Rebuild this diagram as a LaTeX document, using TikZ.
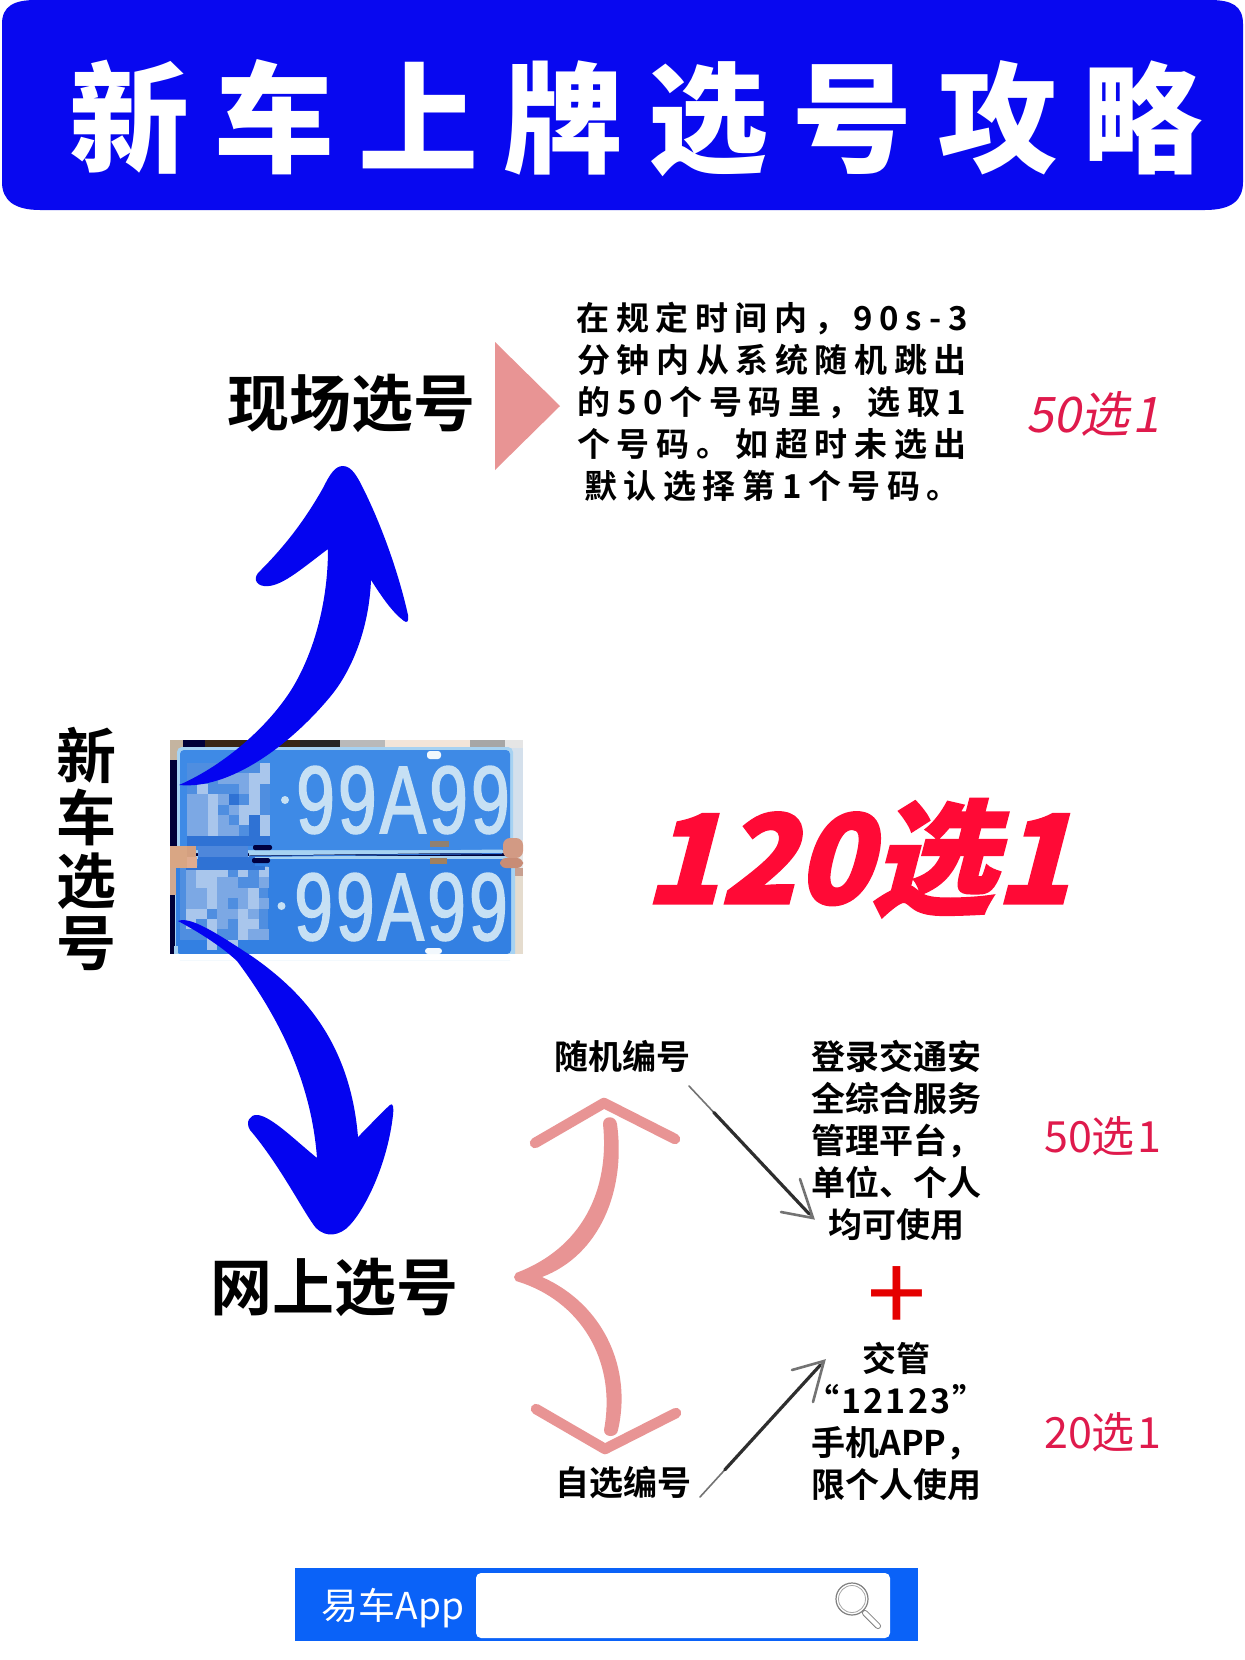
\documentclass[tikz,border=0pt]{standalone}
\usepackage{fontspec}
\usetikzlibrary{calc}
\setmainfont{Noto Sans CJK SC}[BoldFont={* Bold}]
\newfontfamily\cjkblack{Noto Sans CJK SC Black}
\newfontfamily\platefont{Liberation Sans}[FakeStretch=0.72,LetterSpace=3.5,FakeBold=1.6]
\newcommand{\fsz}[2]{\fontsize{#1}{#2}\selectfont}
\definecolor{barblue}{HTML}{0808F0}
\definecolor{arrowblue}{HTML}{0404F0}
\definecolor{salmon}{HTML}{E89494}
\definecolor{crimson}{HTML}{DF1A4C}
\definecolor{hotred}{HTML}{FF0A36}
\definecolor{plate}{HTML}{3E8AE6}
\definecolor{platetwo}{HTML}{3380E2}
\definecolor{plateedge}{HTML}{A6D2F2}
\definecolor{platetext}{HTML}{C6E0F4}
\definecolor{mosbase}{HTML}{4F8EE0}
\definecolor{moslight}{HTML}{A9C6EC}
\definecolor{mosmid}{HTML}{7CA8E4}
\definecolor{mosdark}{HTML}{2F72D4}
\definecolor{searchblue}{HTML}{0A62F8}
\definecolor{bgtan}{HTML}{C4B4A0}
\definecolor{bgcream}{HTML}{E5DCCE}
\definecolor{bgpale}{HTML}{D4E0EC}
\definecolor{skina}{HTML}{D9A684}
\definecolor{skinb}{HTML}{D4A080}
\definecolor{skinc}{HTML}{E0AC90}
\definecolor{skind}{HTML}{D0A890}
\definecolor{skine}{HTML}{D29A84}
\definecolor{skinf}{HTML}{C88C76}
\definecolor{sking}{HTML}{C8A090}
\tikzset{
  every node/.style={inner sep=0pt,outer sep=0pt},
  bigtext/.style={font=\bfseries\fsz{62}{62},text=black},
  midtext/.style={font=\bfseries\fsz{34}{42},text=black,align=center},
  redsmall/.style={font=\fsz{43}{43},text=crimson},
  sketchthin/.style={draw=black!55,line width=1.6pt,line cap=round},
  sketchthick/.style={draw=black!82,line width=3.2pt,line cap=round},
  chevron/.style={draw=salmon,line width=10.5pt,line cap=round,line join=round}
}
\begin{document}
\begin{tikzpicture}[x=1pt,y=-1pt]
\useasboundingbox (0,0) rectangle (1245,1660);
\fill[white] (0,0) rectangle (1245,1660);

% title bar
\fill[barblue] (2,24) .. controls (2,6) and (14,0) .. (36,0) -- (1210,0)
  .. controls (1232,0) and (1243,6) .. (1243,24) -- (1243,182)
  .. controls (1243,200) and (1232,210) .. (1205,210) -- (40,210)
  .. controls (14,210) and (2,200) .. (2,182) -- cycle;
\node[text=white,font=\cjkblack\fsz{120}{120}\addfontfeature{LetterSpace=20.6}] (title) at (636,118) {新车上牌选号攻略};

% photo of the plates
\fill[black!78!blue] (170,740) rectangle (523,954);
\fill[bgtan] (170,740) rectangle (183,760);
\fill[white!80!gray] (505,740) rectangle (523,954);
\fill[black!70!brown] (205,740) rectangle (300,748);
\fill[black!70!gray] (300,740) rectangle (340,748);
\fill[gray!55!white] (340,740) rectangle (385,748);
\fill[brown!20!white] (385,740) rectangle (470,748);
\fill[gray!70!white] (470,740) rectangle (505,748);
\fill[bgcream] (503,875) rectangle (523,954);
\fill[bgpale] (510,748) rectangle (523,840);
\fill[plateedge,rounded corners=5pt] (177,747) rectangle (513,853);
\fill[plate,rounded corners=4pt] (180,750) rectangle (510,850);
\fill[plateedge,rounded corners=5pt] (175,856) rectangle (515,960);
\fill[platetwo,rounded corners=4pt] (176,859) rectangle (511,954);
\fill[white] (170,954) rectangle (523,960);
\fill[plateedge] (174,946) rectangle (178,954);
% mosaic
\fill[mosbase] (187,763) rectangle (270,846);
\fill[mosbase] (180,866) rectangle (268,940);
\foreach \c/\r in {7/0,6/1,7/1,2/3,6/3,2/4,5/4,6/4,2/5,5/5,7/5,2/6,7/6,7/7,6/2,1/2}
  \fill[moslight] ({187+10.4*\c},{763+10.4*\r}) rectangle ++(10.4,10.4);
\foreach \c/\r in {3/1,4/1,5/1,5/2,3/3,0/3,1/3,4/4,0/4,1/4,3/5,0/5,1/5,0/6,1/6,3/6,5/7,1/7,2/7,4/6,6/6}
  \fill[mosmid] ({187+10.4*\c},{763+10.4*\r}) rectangle ++(10.4,10.4);
\foreach \c/\r in {4/3,6/6,6/7,6/5,3/7,4/7}
  \fill[mosdark] ({187+10.4*\c},{763+10.4*\r}) rectangle ++(10.4,10.4);
\foreach \c/\r in {1/0,2/0,3/0,5/0,1/1,2/1,2/2,4/2,6/2,2/3,6/3,0/4,1/4,5/4,2/5,5/5,6/5,0/5,5/6,6/6,2/6,4/7,7/0,2/7}
  \fill[moslight] ({186+10.4*\c},{867+10.4*\r}) rectangle ++(10.4,10.4);
\foreach \c/\r in {0/0,3/1,4/1,0/1,4/2,0/2,1/2,3/2,5/2,3/3,5/3,1/3,0/3,4/4,3/4,6/4,7/1,3/5,6/6,7/6,7/3}
  \fill[mosmid] ({186+10.4*\c},{867+10.4*\r}) rectangle ++(10.4,10.4);
\fill[mosdark] (187,836) rectangle (270,846);
\fill[mosdark!85!white] (198,846) rectangle (248,857);
\fill[mosdark] (198,857) rectangle (255,866);
\fill[mosdark] (186,866) rectangle (265,870);
% hands
\fill[skina] (170,846) rectangle (187,868);
\fill[skinb] (187,846) rectangle (196,857);
\fill[skinc] (187,857) rectangle (197,868);
\fill[skind] (170,868) rectangle (176,895);
\fill[skine,rounded corners=7pt] (503,838) rectangle (523,858);
\fill[skinf,rounded corners=6pt] (500,858) rectangle (523,868);
\fill[sking] (515,868) rectangle (523,876);
% plate details
\fill[white!85!plateedge,rounded corners=3pt] (427,751) rectangle (441,759);
\fill[white!85!plateedge,rounded corners=3pt] (425,948) rectangle (442,954);
\fill[black!75!blue,rounded corners=2pt] (253,845) rectangle (272,850);
\fill[black!75!blue,rounded corners=2pt] (252,858) rectangle (270,863);
\fill[gray!75!brown] (430,841) rectangle (449,847);
\fill[brown!55!gray] (430,858) rectangle (447,864);
\draw[plateedge,line width=3pt] (249,854) -- (502,851);
\draw[mosdark,line width=1pt] (249,856.5) -- (502,853.5);
\node[font=\platefont\fsz{96}{96},text=platetext] (plateone) at (403,800) {99A99};
\node[font=\platefont\fsz{96}{96},text=platetext] (platetwob) at (401,907) {99A99};
\fill[platetext] (285,800) circle[radius=4];
\fill[platetext] (281.5,906) circle[radius=4];

% vertical label
\node[font=\bfseries\fsz{60}{62.5},align=center] (root) at (86,849) {新\\车\\选\\号};

% thick blue arrows
\fill[arrowblue] (328,549) .. controls (300,570) and (280,588) .. (264,586)
  .. controls (255,585) and (253,577) .. (260,571)
  .. controls (285,546) and (305,520) .. (323,488)
  .. controls (330,474) and (335,466) .. (343,466)
  .. controls (352,466) and (358,478) .. (363,488)
  .. controls (380,522) and (398,570) .. (408,615)
  .. controls (409,622) and (407,623) .. (404,621)
  .. controls (392,612) and (382,597) .. (371,580)
  .. controls (369,630) and (351,672) .. (330,697)
  .. controls (290,745) and (230,790) .. (179,785)
  .. controls (225,765) and (270,725) .. (293,687)
  .. controls (315,650) and (328,600) .. (328,549) -- cycle;
\fill[arrowblue] (178,921) .. controls (190,916) and (215,932) .. (253,957)
  .. controls (300,990) and (350,1040) .. (358,1137)
  .. controls (370,1125) and (382,1112) .. (390,1105)
  .. controls (393,1102) and (394,1108) .. (393,1115)
  .. controls (388,1160) and (368,1205) .. (350,1225)
  .. controls (340,1236) and (326,1238) .. (316,1228)
  .. controls (305,1215) and (280,1165) .. (250,1130)
  .. controls (245,1122) and (250,1114) .. (258,1115)
  .. controls (272,1117) and (295,1140) .. (317,1158)
  .. controls (312,1090) and (285,1025) .. (237,961)
  .. controls (220,945) and (195,930) .. (178,921) -- cycle;

% upper branch
\node[bigtext] (onsite) at (351,403) {现场选号};
\fill[salmon] (495,342) -- (560,406) -- (495,470) -- cycle;
\node[font=\bfseries\fsz{33}{42}\addfontfeature{LetterSpace=20},align=center] (rule) at (772,402) {在规定时间内，90s-3\\分钟内从系统随机跳出\\的50个号码里，选取1\\个号码。如超时未选出\\默认选择第1个号码。};
\node[font=\fsz{49}{49}\addfontfeature{FakeSlant=0.2},text=crimson] (fifty) at (1093,414) {50选\hspace{3pt}1};

% central slogan
\node[font=\cjkblack\fsz{124}{124}\addfontfeature{FakeSlant=0.26,FakeBold=1.5},text=hotred] (slogan) at (857,858) {120选1};

% lower branch
\node[bigtext] (online) at (334,1287) {网上选号};
\fill[salmon] (603,1124) .. controls (609,1180) and (590,1245) .. (516,1273)
  -- (514,1277) -- (516,1281)
  .. controls (580,1300) and (617,1360) .. (604,1430)
  .. controls (604,1438) and (617,1438) .. (618,1430)
  .. controls (632,1370) and (605,1305) .. (542,1277)
  .. controls (600,1255) and (626,1190) .. (617,1124)
  .. controls (616,1115) and (603,1115) .. (603,1124) -- cycle;
\coordinate (upL) at (535,1143); \coordinate (upA) at (604,1103); \coordinate (upR) at (675,1139);
\coordinate (dnL) at (536,1409); \coordinate (dnA) at (605,1449); \coordinate (dnR) at (676,1413);
\draw[chevron] (upL) -- (upA) -- (upR);
\draw[chevron] (dnL) -- (dnA) -- (dnR);

\node[midtext] (random) at (622,1056) {随机编号};
\node[midtext] (self) at (623,1483) {自选编号};
\node[midtext] (platform) at (896,1140) {登录交通安\\全综合服务\\管理平台，\\单位、个人\\均可使用};
\node[midtext] (app) at (896,1421) {交管\\{\addfontfeature{LetterSpace=6}“12123”}\\手机APP，\\限个人使用};
\node[font=\fsz{106}{106},text=red!90!black] (plus) at (897,1300) {+};
\node[redsmall] (fiftyb) at (1103,1136) {50选\hspace{3pt}1};
\node[redsmall] (twenty) at (1103,1432) {20选\hspace{3pt}1};

% sketched arrows
\coordinate (a1s) at (689,1086); \coordinate (a1e) at (813,1218);
\coordinate (a1l) at (800,1179); \coordinate (a1r) at (781,1212);
\draw[sketchthin] (a1s) -- (a1e);
\draw[sketchthick] ($(a1s)!.2!(a1e)$) -- ($(a1s)!.97!(a1e)$);
\draw[sketchthin,line width=2.6pt] (a1l) -- (a1e) -- (a1r);
\coordinate (a2s) at (700,1497); \coordinate (a2e) at (824,1361);
\coordinate (a2l) at (792,1370); \coordinate (a2r) at (813,1402);
\draw[sketchthin] (a2s) -- (a2e);
\draw[sketchthick] ($(a2s)!.2!(a2e)$) -- ($(a2s)!.97!(a2e)$);
\draw[sketchthin,line width=2.6pt] (a2l) -- (a2e) -- (a2r);

% search bar
\fill[searchblue] (295,1568) rectangle (918,1641);
\fill[white,rounded corners=5pt] (476,1573) rectangle (890,1638);
\node[font=\fsz{37}{37},text=white] (brand) at (393,1608) {易车App};
\coordinate (lens) at (852,1599);
\coordinate (hs) at (865,1613); \coordinate (he) at (878,1626);
\draw[gray,line width=1.2pt] (lens) circle[radius=16];
\draw[gray!70,line width=.8pt] (lens) circle[radius=13.5];
\draw[gray,line width=6pt,line cap=round] (hs) -- (he);
\draw[white,line width=4pt,line cap=round] (hs) -- (he);
\end{tikzpicture}
\end{document}
